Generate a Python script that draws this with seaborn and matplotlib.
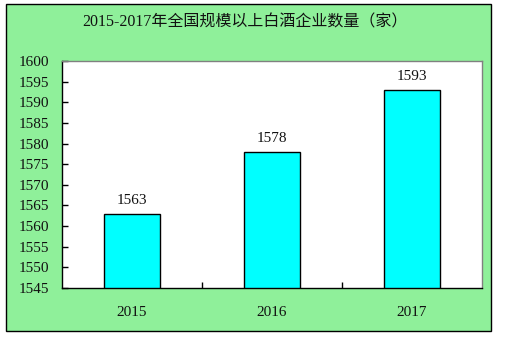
import matplotlib
matplotlib.use("Agg")
import matplotlib.pyplot as plt
import seaborn as sns
import pandas as pd
from matplotlib.patches import Rectangle

years = ["2015", "2016", "2017"]
counts = [1563, 1578, 1593]
yticks = list(range(1545, 1601, 5))
title = "2015-2017年全国规模以上白酒企业数量（家）"

sns.set_theme(style="white")
plt.rcParams['font.family'] = ['Liberation Serif', 'Noto Sans CJK SC']

df = pd.DataFrame({"year": years, "count": counts})

W, H = 509, 340
fig = plt.figure(figsize=(W / 100, H / 100), dpi=100)
fig.patch.set_facecolor("white")
green = "#8FF09A"
fig.patches.append(Rectangle((6 / W, 9 / H), 485 / W, 327 / H, transform=fig.transFigure,
                             facecolor=green, edgecolor="black", linewidth=1.0, zorder=-10))

ax = fig.add_axes([62 / W, 1 - 288 / H, 420 / W, 227 / H])
ax.set_zorder(1)
ax.set_facecolor("white")
sns.barplot(data=df, x="year", y="count", ax=ax, color="#00FFFF", saturation=1,
            width=0.4, edgecolor="black", linewidth=1.0)

ax.set_ylim(1545, 1600)
ax.set_xlim(-0.5, 2.5)
ax.set_yticks(yticks)
ax.set_yticklabels([str(t) for t in yticks], fontsize=11, color="#111111")
ax.tick_params(axis="y", direction="in", length=4, width=1, pad=9, left=True, color="black")
ax.tick_params(axis="x", which="major", length=0, pad=13, labelsize=11, labelcolor="#111111")
ax.set_xticks([0.5, 1.5], minor=True)
ax.tick_params(axis="x", which="minor", direction="in", length=4, width=1, bottom=True, color="black")
ax.set_xlabel("")
ax.set_ylabel("")

for s in ["left", "bottom"]:
    ax.spines[s].set_color("black")
    ax.spines[s].set_linewidth(1.0)
for s in ["top", "right"]:
    ax.spines[s].set_visible(True)
    ax.spines[s].set_color("#808080")
    ax.spines[s].set_linewidth(1.0)

for i, v in enumerate(counts):
    ax.annotate(str(v), (i, v), xytext=(0, 5), textcoords="offset points",
                ha="center", va="bottom", fontsize=11, color="#111111")

fig.text(245 / W, 1 - 22 / H, title, ha="center", va="center", fontsize=11.5, color="#111111")

fig.savefig("out.png", dpi=100)
